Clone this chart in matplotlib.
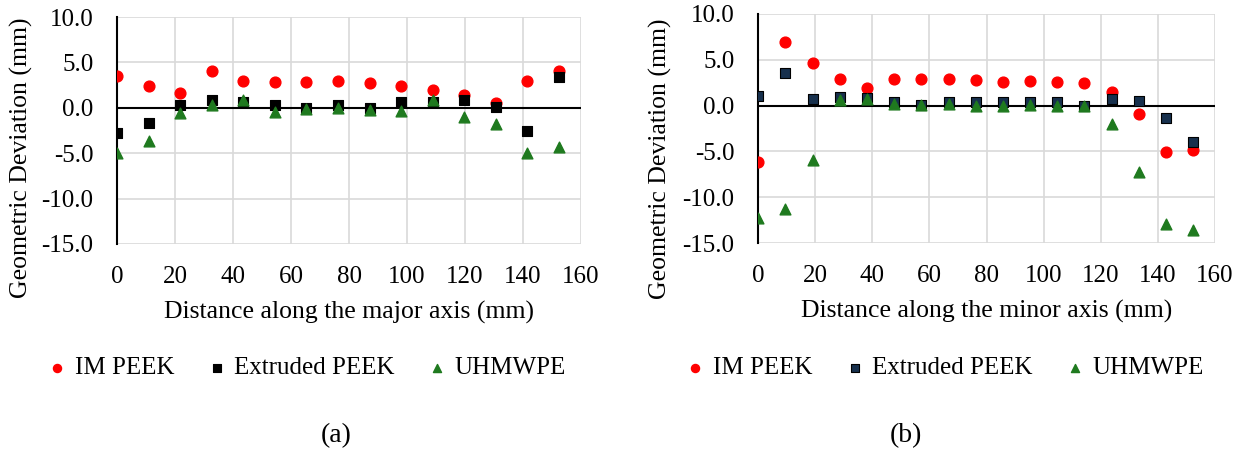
import matplotlib.pyplot as plt

plt.rcParams['font.family'] = ['Liberation Serif', 'DejaVu Serif']

# (a) major axis
x_major = [0, 10.9, 21.8, 32.7, 43.5, 54.4, 65.3, 76.2, 87.1, 98.0, 108.9, 119.7, 130.6, 141.5, 152.4]
im_major = [3.5, 2.4, 1.65, 4.0, 2.9, 2.8, 2.8, 2.9, 2.7, 2.4, 2.0, 1.45, 0.55, 2.9, 4.1]
ext_major = [-2.8, -1.65, 0.3, 0.85, 0.6, 0.3, 0.0, 0.3, 0.0, 0.6, 0.6, 0.85, 0.1, -2.5, 3.4]
uhm_major = [-4.95, -3.65, -0.55, 0.35, 0.85, -0.5, -0.1, -0.05, -0.25, -0.35, 0.85, -1.05, -1.8, -4.95, -4.35]

# (b) minor axis
x_minor = [0, 9.5, 19.1, 28.6, 38.1, 47.6, 57.2, 66.7, 76.2, 85.7, 95.3, 104.8, 114.3, 123.8, 133.4, 142.9, 152.4]
im_minor = [-6.2, 6.9, 4.6, 2.9, 1.9, 2.9, 2.9, 2.9, 2.8, 2.6, 2.7, 2.55, 2.5, 1.5, -0.9, -5.1, -4.9]
ext_minor = [1.0, 3.6, 0.7, 0.9, 0.85, 0.35, 0.1, 0.35, 0.35, 0.35, 0.35, 0.35, 0.0, 0.75, 0.45, -1.4, -4.0]
uhm_minor = [-12.3, -11.3, -5.9, 0.6, 0.7, 0.15, 0.05, 0.15, -0.05, -0.05, 0.05, -0.05, -0.05, -2.0, -7.3, -12.9, -13.6]

yticks = [-15, -10, -5, 0, 5, 10]
xticks = [0, 20, 40, 60, 80, 100, 120, 140, 160]

W, H = 1248, 455
fig = plt.figure(figsize=(W / 100, H / 100), dpi=100)
ax1 = fig.add_axes([117 / W, 1 - 244 / H, 464 / W, 227 / H])
ax2 = fig.add_axes([758 / W, 1 - 243 / H, 457 / W, 229 / H])

green = '#1f7a1f'
panels = [
    (ax1, x_major, im_major, ext_major, uhm_major, 'black', 'major', '(a)', 308 / W, 336 / W, -0.205, 0.38),
    (ax2, x_minor, im_minor, ext_minor, uhm_minor, '#17304d', 'minor', '(b)', 946 / W, 906 / W, -0.214, 0.37),
]

for ax, x, im, ext, uhm, sqc, name, tag, xleg, xtag, ylx, yly in panels:
    ax.scatter(x, im, marker='o', s=60, color='#ff0000', zorder=3, label='IM PEEK')
    ax.scatter(x, ext, marker='s', s=55, color=sqc, edgecolors='black', linewidths=0.8,
               zorder=3, label='Extruded PEEK')
    ax.scatter(x, uhm, marker='^', s=60, color=green, zorder=4, label='UHMWPE')
    ax.set_xlim(0, 160)
    ax.set_ylim(-15, 10)
    ax.set_xticks(xticks)
    ax.set_yticks(yticks)
    ax.set_yticklabels([f'{v:.1f}' for v in yticks])
    ax.grid(True, color='#d9d9d9', linewidth=1.2, zorder=0)
    ax.set_axisbelow(True)
    for s in ['top', 'right', 'bottom']:
        ax.spines[s].set_visible(False)
    ax.spines['left'].set_linewidth(1.5)
    ax.axhline(0, color='black', linewidth=1.5, zorder=2)
    ax.tick_params(axis='both', length=0, labelsize=18)
    ax.tick_params(axis='x', pad=16)
    ax.tick_params(axis='y', pad=17)
    ax.set_xlabel(f'Distance along the {name} axis (mm)', fontsize=18.5, labelpad=9)
    ax.set_ylabel('Geometric Deviation (mm)', fontsize=18.5, va='center')
    ax.yaxis.set_label_coords(ylx, yly)
    ax.legend(loc='center', bbox_to_anchor=(xleg, 1 - 368 / H), bbox_transform=fig.transFigure,
              ncol=3, frameon=False, fontsize=18, handlelength=0.6, handletextpad=0.4,
              columnspacing=1.4, markerscale=0.75, borderpad=0)
    fig.text(xtag, 1 - 436 / H, tag, ha='center', va='center', fontsize=20)

fig.savefig('out.png', dpi=100)
